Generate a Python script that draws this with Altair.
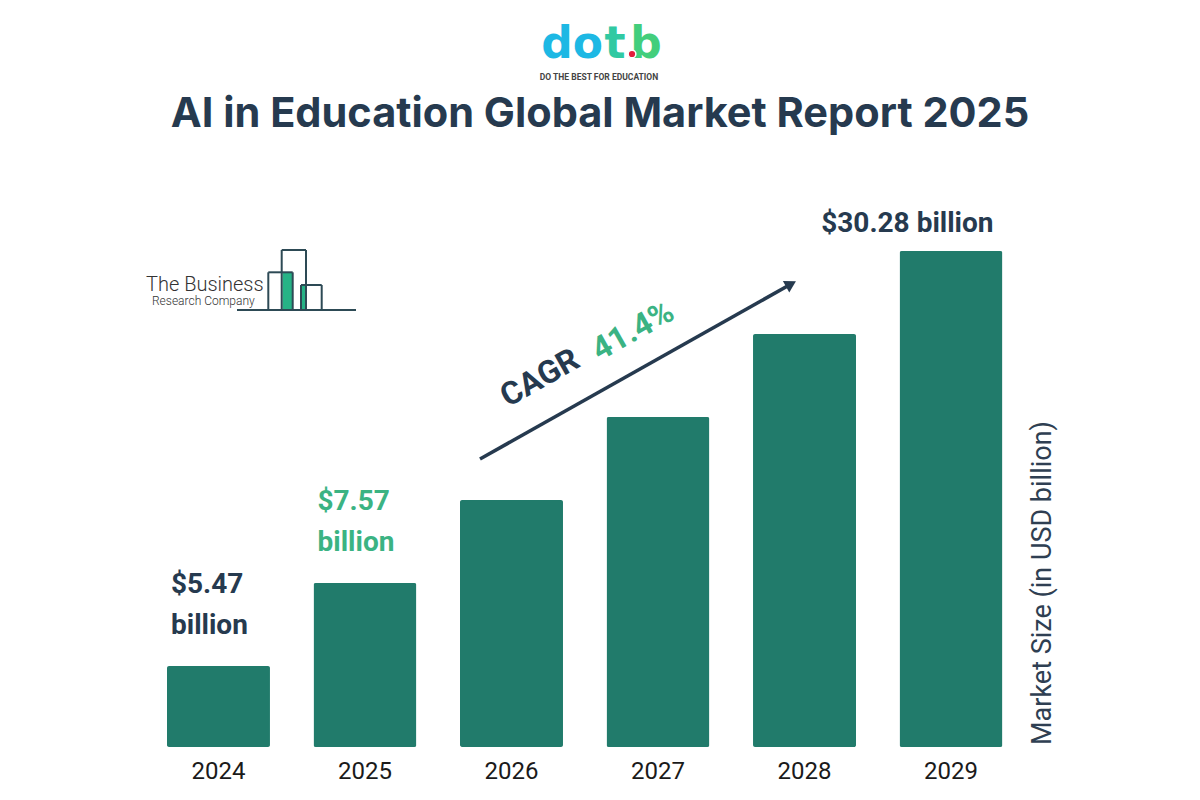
import altair as alt
import pandas as pd

# ---- data ----
years = ["2024", "2025", "2026", "2027", "2028", "2029"]
bar_height = [81, 164, 247, 330, 413, 496]      # drawn bar heights (relative units)
label_years = ["2024", "2025", "2029"]
label_amounts = ["$5.47", "$7.57", "$30.28 billion"]
label_colors = ["#263a4f", "#3bb383", "#263a4f"]

NAVY = "#263a4f"
GREEN = "#3bb383"
BAR = "#217b6b"
FONT = "Roboto"

# plot-area geometry (page pixels)
OX, OY = 145, 200
W, H = 879.5, 547

def px(x):
    return x - OX

def py(y):
    return y - OY

bars_df = pd.DataFrame({"year": years, "height": bar_height})
hmap = dict(zip(years, bar_height))
lab_df = pd.DataFrame({
    "year": label_years,
    "amount": label_amounts,
    "color": label_colors,
    "height": [hmap[y] for y in label_years],
})
dummy = pd.DataFrame({"a": [0]})

xscale = alt.Scale(paddingInner=0.297, paddingOuter=0.15)
xaxis = alt.Axis(labelFontSize=24, labelFont=FONT, labelColor="#1a1a1a",
                 labelPadding=12, ticks=False, domain=False, labelAngle=0,
                 grid=False)
yscale = alt.Scale(domain=[0, H])

def X(**kw):
    return alt.X("year:N", scale=xscale, axis=xaxis, title=None, sort=years, **kw)

Y = alt.Y("height:Q", scale=yscale, axis=None)

bars = alt.Chart(bars_df).mark_bar(color=BAR, cornerRadius=2).encode(x=X(), y=Y)

two = lab_df[lab_df["year"] != "2029"]
one = lab_df[lab_df["year"] == "2029"]

lab1 = alt.Chart(two).mark_text(align="left", baseline="alphabetic", dx=4, dy=-73,
                                fontSize=28, font=FONT, fontWeight="bold").encode(
    x=X(bandPosition=0), y=Y, text="amount:N", color=alt.Color("color:N", scale=None))
lab2 = alt.Chart(two).mark_text(align="left", baseline="alphabetic", dx=4, dy=-32,
                                fontSize=28, font=FONT, fontWeight="bold").encode(
    x=X(bandPosition=0), y=Y, text=alt.value("billion"), color=alt.Color("color:N", scale=None))
lab3 = alt.Chart(one).mark_text(align="right", baseline="alphabetic", dx=-9, dy=-19,
                                fontSize=28, font=FONT, fontWeight="bold").encode(
    x=X(bandPosition=1), y=Y, text="amount:N", color=alt.Color("color:N", scale=None))

def txt(text, x, y, size, color, weight="normal", align="center", baseline="alphabetic",
        angle=0, font=FONT):
    kw = dict(align=align, baseline=baseline, fontSize=size, font=font,
              fontWeight=weight, color=color)
    if angle:
        kw["angle"] = angle
    return alt.Chart(dummy).mark_text(**kw).encode(
        x=alt.value(px(x)), y=alt.value(py(y)), text=alt.value(text))

layers = [bars, lab1, lab2, lab3]

# headline
layers.append(txt("AI in Education Global Market Report 2025", 600, 127, 41.5, NAVY, "bold",
                  font="Inter"))

# dot.b logo
for ch, cx, col in [("do", 572, "#1db8e4"), ("t", 615, "#31c9a2"), ("b", 646, "#43ce7c")]:
    layers.append(txt(ch, cx, 58, 44, col, "bold", font="DejaVu Sans"))
layers.append(alt.Chart(dummy).mark_point(shape="circle", filled=True, opacity=1,
                                          color="#e21d3c", size=60, stroke="white",
                                          strokeWidth=1.5).encode(
    x=alt.value(px(632)), y=alt.value(py(54))))
layers.append(txt("DO THE BEST FOR EDUCATION", 599, 80, 8.5, "#444444", "bold"))

# The Business Research Company logo
layers.append(txt("The Business", 146, 291, 20, "#333333", 300, align="left"))
layers.append(txt("Research Company", 152, 305, 12, "#333333", 300, align="left"))
LOGO = "#2d4a55"
for (cx, cy, w, h) in [(282.5, 272.5, 9.5, 37.5), (301.5, 285, 4.5, 25)]:
    layers.append(alt.Chart(dummy).mark_rect(color="#26b386").encode(
        x=alt.value(px(cx)), x2=alt.value(px(cx + w)),
        y=alt.value(py(cy)), y2=alt.value(py(cy + h))))
segs = [
    (237, 310, 356, 310),
    (268.3, 310, 268.3, 272.3), (268.3, 272.3, 292.7, 272.3), (292.7, 272.3, 292.7, 310),
    (281.7, 310, 281.7, 250), (281.7, 250, 306, 250), (306, 250, 306, 310),
    (301, 310, 301, 285), (301, 285, 321.7, 285), (321.7, 285, 321.7, 310),
]
for (x1, y1, x2, y2) in segs:
    layers.append(alt.Chart(dummy).mark_rule(color=LOGO, strokeWidth=2).encode(
        x=alt.value(px(x1)), x2=alt.value(px(x2)),
        y=alt.value(py(y1)), y2=alt.value(py(y2))))

# CAGR arrow
layers.append(alt.Chart(dummy).mark_rule(color=NAVY, strokeWidth=3.5).encode(
    x=alt.value(px(480)), x2=alt.value(px(792)),
    y=alt.value(py(459)), y2=alt.value(py(283.5))))
layers.append(alt.Chart(dummy).mark_point(shape="triangle-right", filled=True, opacity=1,
                                          color=NAVY, size=170, angle=330.6).encode(
    x=alt.value(px(791)), y=alt.value(py(284))))
layers.append(txt("CAGR", 540, 378, 32, NAVY, "bold", baseline="middle", angle=330.6))
layers.append(txt("41.4%", 633, 331, 32, GREEN, "bold", baseline="middle", angle=330.6))

# right axis title
layers.append(txt("Market Size (in USD billion)", 1043, 583, 27, "#2f3f52", "normal",
                  baseline="middle", angle=270))

chart = alt.layer(*layers).properties(
    width=W, height=H,
    padding={"left": OX, "top": OY, "right": 1200 - OX - W, "bottom": 800 - OY - H},
    autosize=alt.AutoSizeParams(type="none"),
    background="white",
).configure_view(stroke=None)

chart.save("out.html", embed_options={"renderer": "svg", "actions": False})
